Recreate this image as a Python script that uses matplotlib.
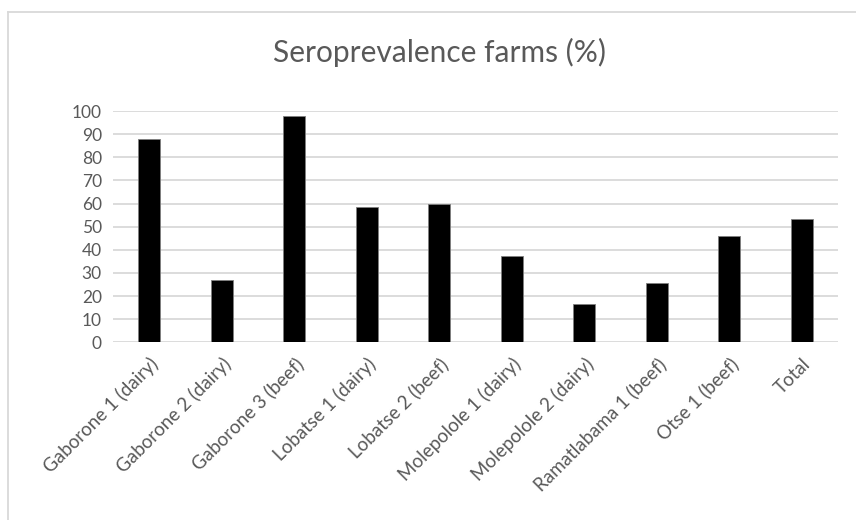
import matplotlib.pyplot as plt
from matplotlib.lines import Line2D

farms = ['Gaborone 1 (dairy)', 'Gaborone 2 (dairy)', 'Gaborone 3 (beef)',
         'Lobatse 1 (dairy)', 'Lobatse 2 (beef)', 'Molepolole 1 (dairy)',
         'Molepolole 2 (dairy)', 'Ramatlabama 1 (beef)', 'Otse 1 (beef)', 'Total']
seroprevalence = [88, 27, 98, 58.3, 59.8, 37.4, 16.5, 25.5, 45.8, 53.3]
y_ticks = list(range(0, 101, 10))

plt.rcParams['font.family'] = ['Lato', 'DejaVu Sans']
text_grey = '#595959'

fig = plt.figure(figsize=(8.56, 5.2), dpi=100)
ax = fig.add_axes([0.132, 0.3417, 0.847, 0.4448])

x = range(len(farms))
ax.bar(x, seroprevalence, width=0.3, color='black', edgecolor='#7f7f7f',
       linewidth=0.6, zorder=3)

ax.set_ylim(0, 100)
ax.set_xlim(-0.5, len(farms) - 0.5)
ax.set_yticks(y_ticks)
ax.grid(axis='y', color='#d9d9d9', linewidth=1.3, zorder=0)
for side in ['top', 'right', 'left', 'bottom']:
    ax.spines[side].set_visible(False)
ax.tick_params(axis='both', length=0, labelcolor=text_grey)
ax.tick_params(axis='y', pad=8, labelsize=12.5)
ax.set_xticks(list(x))
ax.set_xticklabels(farms, rotation=45, ha='right', va='top',
                   rotation_mode='anchor')
ax.tick_params(axis='x', pad=9, labelsize=13.5)

fig.text(0.514, 0.9, 'Seroprevalence farms (%)', ha='center', va='center',
         fontsize=21.5, color=text_grey)

# chart frame (top and left edges)
fig.add_artist(Line2D([8 / 856, 1], [1 - 12 / 520, 1 - 12 / 520],
                      color='#d9d9d9', linewidth=1.3, transform=fig.transFigure))
fig.add_artist(Line2D([8 / 856, 8 / 856], [0, 1 - 12 / 520],
                      color='#d9d9d9', linewidth=1.3, transform=fig.transFigure))

fig.savefig('out.png', dpi=100)
